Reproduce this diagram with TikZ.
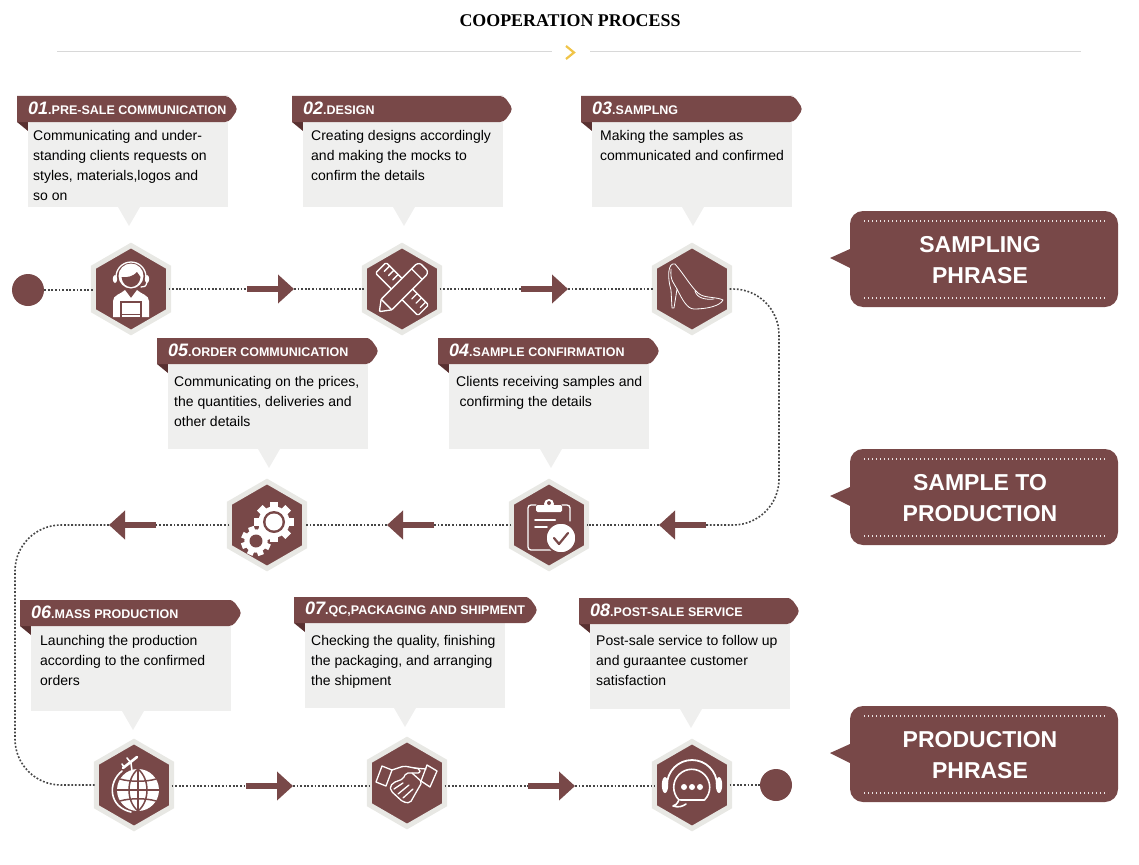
\documentclass[tikz,border=0pt]{standalone}
\usepackage{fontspec}
\setmainfont{Liberation Sans}
\newfontfamily\titlefont{Liberation Serif}
\usepackage{xcolor}
\usetikzlibrary{shapes.geometric, arrows.meta, positioning, calc}
\definecolor{cBrown}{RGB}{120,72,72}
\definecolor{cFold}{RGB}{88,48,48}
\definecolor{cCard}{RGB}{239,239,238}
\definecolor{cRim}{RGB}{232,232,228}
\definecolor{cRule}{RGB}{216,216,216}
\definecolor{cDots}{RGB}{70,70,70}
\definecolor{cGold}{RGB}{240,196,72}
\tikzset{
	headline/.style={font=\titlefont\bfseries\fontsize{17.9}{20}\selectfont, inner sep=0pt},
	hexnode/.style={regular polygon, regular polygon sides=6, shape border rotate=30, minimum size=87pt, inner sep=0pt, outer sep=0pt, draw=cRim, line width=5pt, fill=cBrown},
	dotnode/.style={circle, minimum size=32pt, inner sep=0pt, fill=cBrown},
	cardtext/.style={anchor=north west, align=left, inner sep=0pt, font=\fontsize{14}{20}\selectfont},
	ribbontext/.style={anchor=west, inner sep=0pt, text=white, font=\bfseries\fontsize{12.5}{14}\selectfont},
	badgetext/.style={align=center, inner sep=0pt, text=white, font=\bfseries\fontsize{23}{31.5}\selectfont},
	dotline/.style={draw=cDots, line width=1.6pt, dash pattern=on 1.8pt off 1.8pt},
	flowarrow/.style={-{Triangle[length=16pt, width=28pt]}, line width=6pt, draw=cBrown},
	iconline/.style={draw=white, line width=1.3pt, line join=round, line cap=round},
}
% one numbered card: name, x, y, ribbon width, tip x, text position, number, title, body
\newcommand{\stepcard}[9]{
	\fill[cFold] (#2,#3+26) -- (#2+11,#3+26) -- (#2+11,#3+35) -- cycle;
	\fill[cCard] (#2+11,#3+26) rectangle (#2+211,#3+111);
	\fill[cCard] (#5-11,#3+111) -- (#5+11,#3+111) -- (#5,#3+130) -- cycle;
	\fill[cBrown, rounded corners=5pt] (#2,#3) [sharp corners] -- (#2+#4-10,#3) [rounded corners=4pt] -- (#2+#4-9,#3) -- (#2+#4,#3+13) -- (#2+#4-9,#3+26) [sharp corners] -- (#2,#3+26) -- cycle;
	\node[ribbontext] (#1title) at (#2+11,#3+12.5) {{\itshape\fontsize{18}{18}\selectfont #7}#8};
	\node[cardtext] (#1body) at (#6) {#9};
}
% right-hand phase callout: name, y, text
\newcommand{\phasebadge}[3]{
	\fill[cBrown] (830,#2+47) -- (850,#2+38) [rounded corners=13pt] -- (850,#2) -- (1118,#2) -- (1118,#2+96) -- (850,#2+96) [sharp corners] -- (850,#2+57) -- cycle;
	\coordinate (#1a) at (864,#2+10);
	\coordinate (#1b) at (1105,#2+10);
	\coordinate (#1c) at (864,#2+87);
	\coordinate (#1d) at (1105,#2+87);
	\draw[white!85!cBrown, line width=1.2pt, dash pattern=on 1.4pt off 2.6pt] (#1a) -- (#1b) (#1c) -- (#1d);
	\node[badgetext] (#1) at (980,#2+49) {#3};
}
% gear with teeth: radius, hole radius
\newcommand{\geartoothed}[2]{
	\fill[white] (0,0) circle (#1*0.78);
	\foreach \ang in {0,45,...,315}
		\fill[white, rotate=\ang] (#1*0.7,-#1*0.2) rectangle (#1,#1*0.2);
	\fill[cBrown] (0,0) circle (#2);
}
\begin{document}
\begin{tikzpicture}[x=1pt, y=-1pt]
	\useasboundingbox (0,0) rectangle (1139,864);
	\node[headline] (heading) at (570,20.5) {COOPERATION PROCESS};
	\coordinate (ruleA) at (57,52);
	\coordinate (ruleB) at (552,52);
	\coordinate (ruleC) at (590,52);
	\coordinate (ruleD) at (1081,52);
	\draw[cRule, line width=1pt] (ruleA) -- (ruleB) (ruleC) -- (ruleD);
	\draw[cGold, line width=2.2pt] (566,46) -- (574,52.5) -- (566,59);

	\stepcard{one}{17}{96}{221}{129}{33,130.5}{01}{.PRE-SALE COMMUNICATION}{Communicating and under-\\standing clients requests on\\styles, materials,logos and\\so on}
	\stepcard{two}{292}{96}{221}{404}{311,130.5}{02}{.DESIGN}{Creating designs accordingly\\and making the mocks to\\confirm the details}
	\stepcard{three}{581}{96}{222}{693}{600,130.5}{03}{.SAMPLNG}{Making the samples as\\communicated and confirmed}
	\stepcard{four}{438}{338}{222}{551}{456,376.5}{04}{.SAMPLE CONFIRMATION}{Clients receiving samples and\\\hspace{3.5pt}confirming the details}
	\stepcard{five}{157}{338}{222}{269}{174,376.5}{05}{.ORDER COMMUNICATION}{Communicating on the prices,\\the quantities, deliveries and\\other details}
	\stepcard{six}{20}{600}{222}{133}{40,635.5}{06}{.MASS PRODUCTION}{Launching the production\\according to the confirmed\\orders}
	\stepcard{seven}{294}{597}{244}{405}{311,635.5}{07}{.QC,PACKAGING AND SHIPMENT}{Checking the quality, finishing\\the packaging, and arranging\\the shipment}
	\stepcard{eight}{579}{598}{221}{691}{596,635.5}{08}{.POST-SALE SERVICE}{Post-sale service to follow up\\and guraantee customer\\satisfaction}

	\phasebadge{sampling}{211}{SAMPLING\\PHRASE}
	\phasebadge{sampleprod}{449}{SAMPLE TO\\PRODUCTION}
	\phasebadge{production}{706}{PRODUCTION\\PHRASE}

	\node[dotnode] (startdot) at (28,290) {};
	\node[dotnode] (enddot) at (776,785) {};
	\node[hexnode] (hexone) at (131,289) {};
	\node[hexnode] (hextwo) at (402,289) {};
	\node[hexnode] (hexthree) at (692,289) {};
	\node[hexnode] (hexfour) at (549,525) {};
	\node[hexnode] (hexfive) at (267,525) {};
	\node[hexnode] (hexsix) at (134,785) {};
	\node[hexnode] (hexseven) at (407,783) {};
	\node[hexnode] (hexeight) at (692,785) {};

	% block arrows between the hexagons
	\foreach \nm/\ax/\bx/\yy in {arone/247/294/289, artwo/521/568/289, arthree/706/659/525, arfour/434/387/525, arfive/156/109/525, arsix/246/293/786, arseven/528/575/786} {
		\coordinate (\nm s) at (\ax,\yy);
		\coordinate (\nm e) at (\bx,\yy);
		\draw[flowarrow] (\nm s) -- (\nm e);
	}
	\draw[dotline] (startdot) -- (hexone.west |- startdot);
	\draw[dotline] (hexone) -- (arones);
	\draw[dotline] (aronee) -- (hextwo);
	\draw[dotline] (hextwo) -- (artwos);
	\draw[dotline] (artwoe) -- (hexthree);
	\draw[dotline, rounded corners=46pt] (hexthree.east) -- (779,289) -- (779,525) -- (arthrees);
	\draw[dotline] (arthreee) -- (hexfour);
	\draw[dotline] (hexfour) -- (arfours);
	\draw[dotline] (arfoure) -- (hexfive);
	\draw[dotline] (hexfive) -- (arfives);
	\draw[dotline, rounded corners=46pt] (arfivee) -- (15,525) -- (15,785) -- (hexsix.west);
	\draw[dotline] (hexsix.east |- arsixs) -- (arsixs);
	\draw[dotline] (arsixe) -- (hexseven.west |- arsixe);
	\draw[dotline] (hexseven.east |- arsevens) -- (arsevens);
	\draw[dotline] (arsevene) -- (hexeight.west |- arsevene);
	\draw[dotline] (hexeight) -- (enddot);

	% agent with headset
	\begin{scope}[shift={(hexone)}]
		\draw[iconline] (-15,-12) arc (180:360:15);
		\fill[white] (-16,-10) ellipse (2.2 and 4) (16,-10) ellipse (2.2 and 4);
		\draw[iconline] (16,-7) .. controls (15,-2) and (13,-2) .. (10,-2);
		\fill[white] (0,-13) circle (12.5);
		\fill[cBrown] (-9.5,-12) .. controls (-4,-11) and (3,-13) .. (6,-17) .. controls (8,-14) and (9,-13) .. (9.5,-12) .. controls (9,-5) and (4,-2) .. (0,-2) .. controls (-4,-2) and (-9,-5) .. (-9.5,-12) -- cycle;
		\fill[white] (-18,28) -- (-18,12) .. controls (-18,6) and (-10,5) .. (-6,1) -- (0,9) -- (6,1) .. controls (10,5) and (18,6) .. (18,12) -- (18,28) -- cycle;
		\draw[cBrown, line width=1.2pt, fill=white] (-10,13) rectangle (10,29);
		\draw[cBrown, line width=1pt] (-9,25) -- (9,25);
	\end{scope}
	% crossed pencil and ruler
	\begin{scope}[shift={(hextwo)}, rotate=-45]
		\draw[iconline, rounded corners=1.5pt] (-30,-7.5) rectangle (30,7.5);
		\foreach \tk in {-25,-19,-13,14,20,26}
			\draw[iconline] (\tk,-7.5) -- (\tk,0);
	\end{scope}
	\begin{scope}[shift={(hextwo)}, rotate=45]
		\draw[iconline, fill=cBrown, rounded corners=1pt] (-32,0) -- (-22,-7.5) -- (28,-7.5) -- (31,-5) -- (31,5) -- (28,7.5) -- (-22,7.5) -- cycle;
		\draw[iconline] (-22,-7.5) -- (-22,7.5) (21,-7.5) -- (21,7.5);
	\end{scope}
	% high-heeled shoe
	\begin{scope}[shift={(hexthree)}]
		\draw[iconline, line width=.8pt] (-17,-25) .. controls (-24,-27) and (-25,-12) .. (-21,1) -- (-20,19) -- (-18,19) -- (-15,0) .. controls (-10,10) and (-5,20) .. (2,20) .. controls (15,20) and (28,17) .. (31,11) .. controls (25,8) and (15,9) .. (9,6) .. controls (2,3) and (-8,-15) .. (-17,-25);
		\draw[iconline, line width=.8pt] (-21,-20) .. controls (-22,-8) and (-18,-6) .. (-15,0) (3,2) .. controls (5,9) and (13,11) .. (22,10);
	\end{scope}
	% clipboard with tick
	\begin{scope}[shift={(hexfour)}]
		\draw[iconline, rounded corners=3pt] (-13,-20) -- (-21,-20) -- (-21,25) -- (2,25);
		\draw[iconline, rounded corners=3pt] (13,-20) -- (21,-20) -- (21,-4);
		\fill[white, rounded corners=1.5pt] (-13,-20) rectangle (13,-13);
		\fill[white] (0,-21) circle (5);
		\fill[cBrown] (0,-22) circle (2);
		\draw[iconline, line width=2pt] (-14,-5) -- (6,-5);
		\draw[iconline, line width=1.6pt] (-14,2) -- (-2,2);
		\draw[cBrown, line width=1.5pt, fill=white] (12,13) circle (15);
		\draw[cBrown, line width=2.2pt, line cap=round, line join=round] (5,13) -- (10,19) -- (19,8);
	\end{scope}
	% pair of gears
	\begin{scope}[shift={(hexfive)}]
		\begin{scope}[shift={(7,-3)}]
			\geartoothed{20}{11}
			\fill[white] (0,0) circle (8.5);
		\end{scope}
		\begin{scope}[shift={(-11,16)}, rotate=20]
			\geartoothed{15}{6.5}
		\end{scope}
	\end{scope}
	% globe and plane
	\begin{scope}[shift={(hexsix)}]
		\fill[white] (4,5) circle (21);
		\draw[cBrown, line width=1.5pt] (-17,5) -- (25,5) (4,-16) -- (4,26);
		\draw[cBrown, line width=1.5pt] (4,-16) .. controls (-8,-6) and (-8,16) .. (4,26) (4,-16) .. controls (16,-6) and (16,16) .. (4,26);
		\draw[cBrown, line width=1.5pt] (-14,-6) .. controls (-4,-3) and (12,-3) .. (22,-6) (-14,16) .. controls (-4,13) and (12,13) .. (22,16);
		\draw[iconline, line width=1.6pt] (-12,-14) .. controls (-27,-2) and (-25,22) .. (-3,27);
		\draw[iconline, line width=2.6pt] (-11,-17) -- (3,-28);
		\draw[iconline, line width=1.6pt] (-7,-27) -- (-3,-22) -- (-2,-14) (-12,-21) -- (-10,-18);
	\end{scope}
	% handshake
	\begin{scope}[shift={(hexseven)}]
		\draw[iconline] (-25,-17) -- (-15,-13) -- (-21,3) -- (-31,-1) -- cycle;
		\draw[iconline] (20,-18) -- (30,-12) -- (23,4) -- (14,-2) -- cycle;
		\draw[iconline, rounded corners=2pt] (-15,-13) -- (-3,-17) -- (13,-14) -- (13,-10) -- (-1,-10) -- (-4,-4) -- (-12,-1);
		\draw[iconline, rounded corners=2pt] (19,-14) -- (7,-15) (5,-10) -- (15,-1) -- (3,20) -- (-4,19) -- (-16,8) -- (-17,3) -- (-12,-1);
		\draw[iconline] (-13,6) -- (-4,0) (-9,11) -- (2,2) (-4,15) -- (6,6);
	\end{scope}
	% support chat with headset
	\begin{scope}[shift={(hexeight)}]
		\draw[iconline, line width=1.8pt] (-25,0) arc (180:360:25);
		\fill[white] (-27,0) ellipse (3.2 and 8) (27,0) ellipse (3.2 and 8);
		\draw[iconline, line width=1.6pt] (-13,15) arc (135:405:18) -- cycle;
		\draw[iconline, line width=1.6pt, fill=cBrown] (-13,15) .. controls (-15,19) and (-17,21) .. (-19,21) .. controls (-13,23) and (-9,21) .. (-6,19);
		\foreach \dx in {-8,0,8}
			\fill[white] (\dx,2) circle (3);
	\end{scope}
\end{tikzpicture}
\end{document}
